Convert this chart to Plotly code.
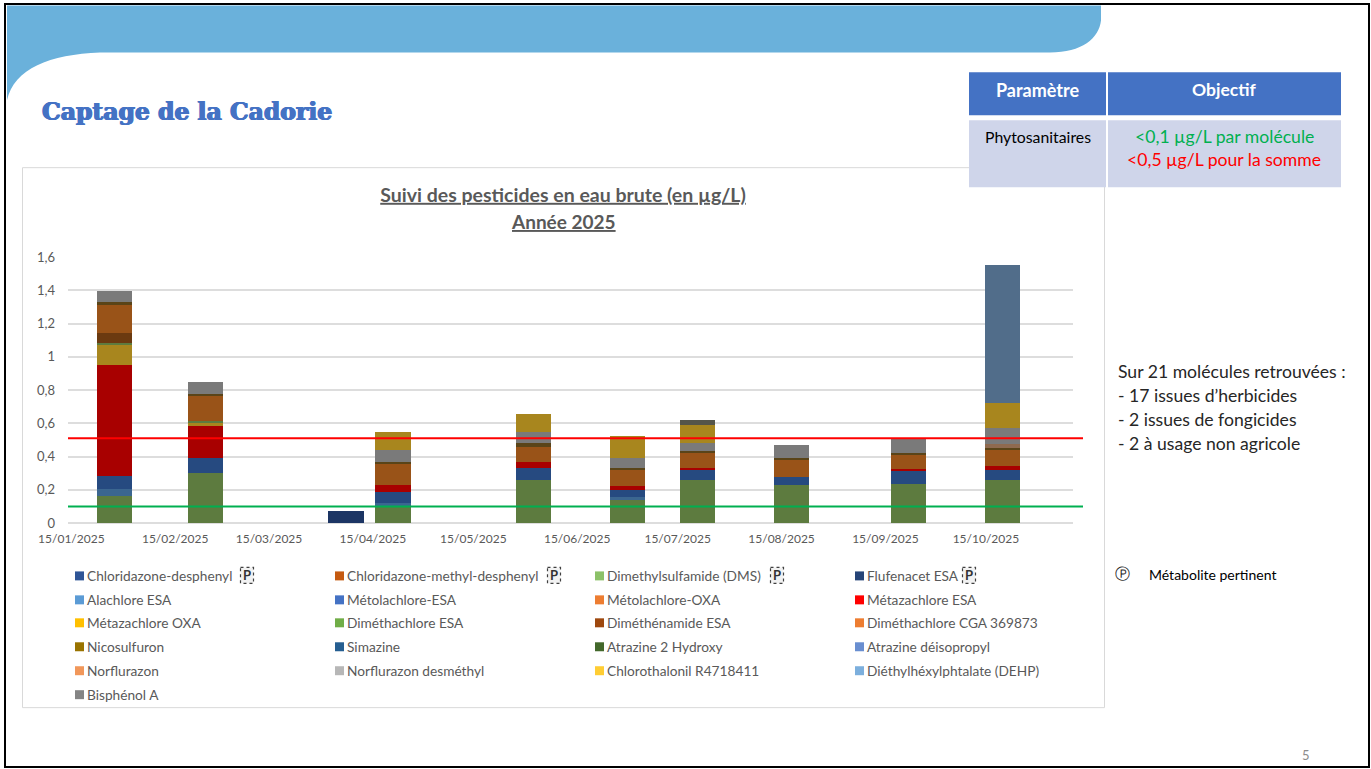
import plotly.graph_objects as go

W, H = 1371, 769
PL, PR, PT, PB = 68, 1073, 257, 523.5

dates = ["2025-01-28", "2025-02-24", "2025-04-07", "2025-04-21", "2025-06-02",
         "2025-06-30", "2025-07-21", "2025-08-18", "2025-09-22", "2025-10-20"]

names = ["Chloridazone-desphenyl", "Chloridazone-methyl-desphenyl", "Dimethylsulfamide (DMS)", "Flufenacet ESA",
         "Alachlore ESA", "Métolachlore-ESA", "Métolachlore-OXA", "Métazachlore ESA",
         "Métazachlore OXA", "Diméthachlore ESA", "Diméthénamide ESA", "Diméthachlore CGA 369873",
         "Nicosulfuron", "Simazine", "Atrazine 2 Hydroxy", "Atrazine déisopropyl",
         "Norflurazon", "Norflurazon desméthyl", "Chlorothalonil R4718411", "Diéthylhéxylphtalate (DEHP)",
         "Bisphénol A"]

legend_colors = ["#2F5597", "#C55A11", "#8CC168", "#264478",
                 "#5B9BD5", "#4472C4", "#ED7D31", "#FF0000",
                 "#FFC000", "#70AD47", "#9E480E", "#ED7D31",
                 "#997300", "#255E91", "#43682B", "#698ED0",
                 "#F1975A", "#B7B7B7", "#FFCD33", "#7CAFDD",
                 "#848484"]

bar_colors = ["#264A80", "#995318", "#5D7B3F", "#1C3564",
              "#3B6690", "#264A80", "#995318", "#A80000",
              "#A8861E", "#5D7B3F", "#6B3A10", "#995318",
              "#5A4418", "#255E91", "#43682B", "#516D8A",
              "#8F6A4F", "#7A7A7A", "#A8861E", "#516D8A",
              "#55554A"]

zero = [0] * 10
chloridazone_desphenyl = zero
chloridazone_methyl = zero
dms = [.165, .30, 0, .104, .258, .144, .26, .23, .235, .26]
flufenacet = [0, 0, .075, 0, 0, 0, 0, 0, 0, 0]
alachlore = [.042, 0, 0, .016, 0, .012, 0, 0, 0, 0]
metolachlore_esa = [.078, .09, 0, .064, .072, .04, .06, .048, .078, .059]
metolachlore_oxa = zero
metazachlore_esa = [.663, .193, 0, .042, .034, .024, .01, 0, .012, .022]
metazachlore_oxa = [.12, .024, 0, 0, 0, 0, 0, 0, 0, 0]
dimethachlore_esa = [.014, .006, 0, 0, 0, 0, 0, 0, 0, 0]
dimethenamide = [.06, 0, 0, 0, 0, 0, 0, 0, 0, 0]
cga = [.175, .149, 0, .129, .094, .096, .094, .106, .084, .098]
nicosulfuron = [.01, .014, 0, .01, .022, .016, .008, .01, .01, .012]
simazine = zero
atrazine_h = zero
atrazine_d = zero
norflurazon = [0, 0, 0, 0, 0, 0, 0, 0, 0, .024]
norflurazon_d = [.07, .074, 0, .074, .07, .058, .048, .078, .094, .094]
chlorothalonil = [0, 0, 0, .11, .104, .134, .112, 0, 0, .151]
dehp = [0, 0, 0, 0, 0, 0, 0, 0, 0, .831]
bisphenol = [0, 0, 0, 0, 0, 0, .026, 0, 0, 0]

series = [chloridazone_desphenyl, chloridazone_methyl, dms, flufenacet,
          alachlore, metolachlore_esa, metolachlore_oxa, metazachlore_esa,
          metazachlore_oxa, dimethachlore_esa, dimethenamide, cga,
          nicosulfuron, simazine, atrazine_h, atrazine_d,
          norflurazon, norflurazon_d, chlorothalonil, dehp, bisphenol]

x_ticks = ["2025-01-15", "2025-02-15", "2025-03-15", "2025-04-15", "2025-05-15",
           "2025-06-15", "2025-07-15", "2025-08-15", "2025-09-15", "2025-10-15"]
x_labels = ["15/01/2025", "15/02/2025", "15/03/2025", "15/04/2025", "15/05/2025",
            "15/06/2025", "15/07/2025", "15/08/2025", "15/09/2025", "15/10/2025"]
y_ticks = [0, .2, .4, .6, .8, 1, 1.2, 1.4, 1.6]
y_labels = ["0", "0,2", "0,4", "0,6", "0,8", "1", "1,2", "1,4", "1,6"]
limit_sum = 0.51
limit_molecule = 0.1

FONT = "Lato"
GREY = "#595959"


def fx(px):
    return (px - PL) / (PR - PL)


def fy(py):
    return 1 - (py - PT) / (PB - PT)


def pp(px, py):
    return f"{fx(px):.5f} {fy(py):.5f}"


shapes, ann = [], []


def rect(x0, y0, x1, y1, fill=None, line=None, lw=1, dash=None, layer="below"):
    shapes.append(dict(type="rect", xref="paper", yref="paper", x0=fx(x0), x1=fx(x1), y0=fy(y0), y1=fy(y1),
                       fillcolor=fill or "rgba(0,0,0,0)",
                       line=dict(color=line or "rgba(0,0,0,0)", width=lw if line else 0, dash=dash or "solid"),
                       layer=layer))


def text(px, py, s, size=13, color=GREY, anchor="left", family=FONT, shadow=None):
    font = dict(family=family, size=size, color=color)
    if shadow:
        font["shadow"] = shadow
    ann.append(dict(xref="paper", yref="paper", x=fx(px - 2 if anchor == "left" else px), y=fy(py), text=s,
                    showarrow=False, xanchor=anchor, yanchor="middle", align=anchor, font=font))


# banner (slide decoration)
banner = (f"M {pp(7, 5)} L {pp(1101, 5)} L {pp(1101, 20)} C {pp(1099, 38)} {pp(1082, 52)} {pp(1050, 52)} "
          f"L {pp(100, 52)} C {pp(50, 54)} {pp(14, 68)} {pp(7, 100)} Z")
shapes.append(dict(type="path", xref="paper", yref="paper", path=banner, fillcolor="#6AB1DB", line=dict(width=0), layer="below"))
# slide border
rect(5, 3.5, 1369, 768, line="#000000", lw=2)
# chart frame
rect(22.5, 167.5, 1104.5, 708.5, fill="#FFFFFF", line="#D9D9D9", lw=1)
# table
rect(969, 72, 1106, 115, fill="#4472C4", layer="above")
rect(1108, 72, 1341, 115, fill="#4472C4", layer="above")
rect(969, 120, 1106, 187, fill="#CFD5EA", layer="above")
rect(1108, 120, 1341, 187, fill="#CFD5EA", layer="above")

text(42, 111.5, "<b>Captage de la Cadorie</b>", 23.5, "#4472C4", family="DejaVu Serif",
     shadow="0.7px 0 0 #4472C4, -0.7px 0 0 #4472C4, 0 0.4px 0 #4472C4")
text(1037.5, 89.5, "<b>Paramètre</b>", 18, "#FFFFFF", "center")
text(1224, 89.5, "<b>Objectif</b>", 17.5, "#FFFFFF", "center")
text(1037.5, 136, "Phytosanitaires", 15.8, "#000000", "center")
text(1224, 136.5, "&lt;0,1 µg/L par molécule", 17.6, "#00B050", "center")
text(1224, 159, "&lt;0,5 µg/L pour la somme", 17.6, "#FF0000", "center")

text(563, 221.5, "<b><u>Année 2025</u></b>", 19, GREY, "center")

side = ["Sur 21 molécules retrouvées :", "- 17 issues d’herbicides", "- 2 issues de fongicides", "- 2 à usage non agricole"]
for i, s in enumerate(side):
    text(1118, 372 + 24 * i, s, 17.6, "#262626")
text(1122, 575, "Ⓟ", 15, "#262626", "center", "DejaVu Sans")
text(1149, 575, "Métabolite pertinent", 14, "#000000")
text(1305.5, 756, "5", 13, "#8C8C8C", "center")

# legend, laid out on the reference's four-column grid
col_x = [75, 335, 595, 855]
row_y = [576, 600, 623, 647, 671, 695]
p_x = [247, 554, 777, 969]
for i, (n, c) in enumerate(zip(names, legend_colors)):
    cx, cy = col_x[i % 4], row_y[i // 4]
    rect(cx, cy - 4, cx + 9, cy + 5, fill=c)
    text(cx + 12, cy + 0.5, n, 13.7, GREY)
    if i < 4:
        rect(p_x[i] - 6.5, cy - 8, p_x[i] + 6.5, cy + 8, fill="#F2F2F2", line="#404040", lw=1.2, dash="dot")
        text(p_x[i], cy, "<b>P</b>", 13, "#333333", "center")

# limit lines
for v, c in [(limit_sum, "#FF0000"), (limit_molecule, "#00B050")]:
    shapes.append(dict(type="line", xref="paper", yref="y", x0=0, x1=fx(1083), y0=v, y1=v,
                       line=dict(color=c, width=2), layer="above"))

fig = go.Figure()
BAR_DAYS = 10.5
for n, vals, c in zip(names, series, bar_colors):
    fig.add_trace(go.Bar(x=dates, y=vals, name=n, marker=dict(color=c, line=dict(width=0)),
                         width=BAR_DAYS * 86400000, showlegend=False))

d0 = "2025-01-14"
fig.update_layout(
    width=W, height=H, autosize=False, barmode="stack", showlegend=False,
    paper_bgcolor="#FFFFFF", plot_bgcolor="rgba(0,0,0,0)",
    margin=dict(l=PL, r=W - PR, t=PT, b=H - PB, pad=0),
    font=dict(family=FONT, size=12, color=GREY),
    title=dict(text="<b><u>Suivi des pesticides en eau brute (en µg/L)</u></b>", xref="paper", x=fx(563), xanchor="center",
               yref="container", y=1 - 195 / H, yanchor="middle", font=dict(family=FONT, size=19.5, color=GREY)),
    xaxis=dict(type="date", range=[d0, "2025-11-10"], tickmode="array", tickvals=x_ticks, ticktext=x_labels,
               showgrid=False, zeroline=False, showline=False, ticks="", ticklabelstandoff=7,
               tickfont=dict(family=FONT, size=12, color=GREY)),
    yaxis=dict(range=[0, 1.6], tickmode="array", tickvals=y_ticks, ticktext=y_labels, gridcolor="#DDDDDD", gridwidth=1.5,
               zeroline=True, zerolinecolor="#DDDDDD", zerolinewidth=1.5, showline=False, ticks="", ticklabelstandoff=12,
               tickfont=dict(family=FONT, size=13, color=GREY)),
    shapes=shapes, annotations=ann,
)
fig.write_html("out.html", config={"displayModeBar": False},
               post_script="document.body.style.margin='0';document.body.style.overflow='hidden';")
